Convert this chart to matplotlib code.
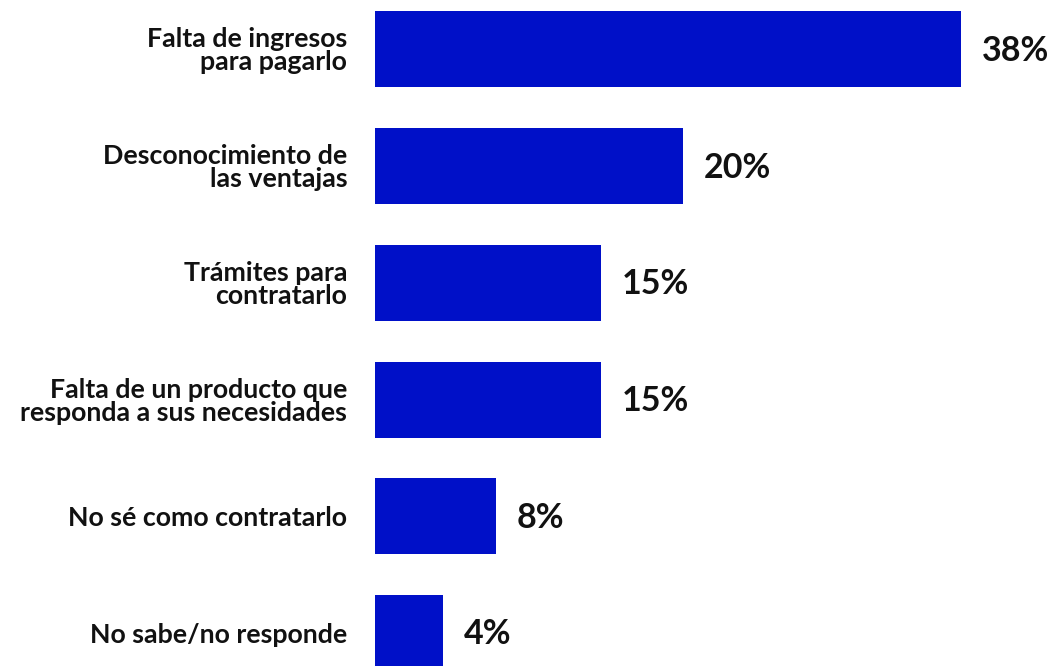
import matplotlib.pyplot as plt

# datos
categorias = [
    "Falta de ingresos\npara pagarlo",
    "Desconocimiento de\nlas ventajas",
    "Trámites para\ncontratarlo",
    "Falta de un producto que\nresponda a sus necesidades",
    "No sé como contratarlo",
    "No sabe/no responde",
]
valores = [38.05, 20.0, 14.7, 14.7, 7.85, 4.4]
etiquetas = ["38%", "20%", "15%", "15%", "8%", "4%"]

color_barra = "#0010c8"

plt.rcParams['font.family'] = ['Lato', 'DejaVu Sans']

fig = plt.figure(figsize=(10.63, 6.66), dpi=100)
ax = fig.add_axes([375 / 1063, 0, (1063 - 375) / 1063, 1])

posiciones = list(range(len(categorias)))
ax.barh(posiciones, valores, height=0.651, color=color_barra)

# etiquetas de valor al final de cada barra
for y, v, txt in zip(posiciones, valores, etiquetas):
    ax.annotate(txt, xy=(v, y), xytext=(15, -1), textcoords='offset points',
                ha='left', va='center', fontsize=24.5, fontweight='bold',
                color='#111111', annotation_clip=False)

ax.set_yticks(posiciones)
ax.set_yticklabels(categorias, fontsize=19.3, fontweight='bold',
                   color='#111111', linespacing=0.95)
ax.tick_params(axis='y', length=0, pad=20)
ax.set_xticks([])

ax.set_xlim(0, 44.7)
ax.set_ylim(5.283, -0.424)

for s in ax.spines.values():
    s.set_visible(False)

fig.savefig("out.png", dpi=100)
